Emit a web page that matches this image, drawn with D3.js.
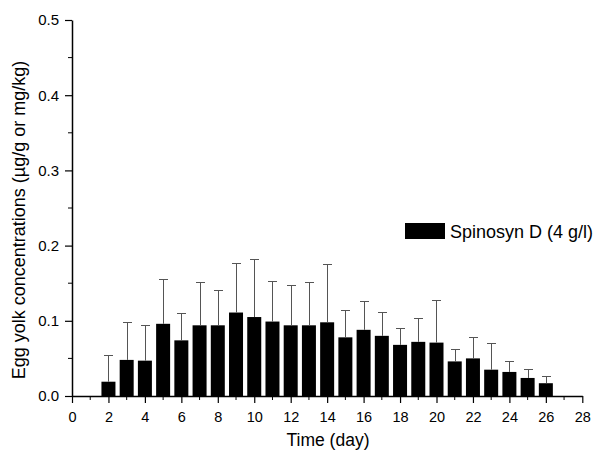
<!DOCTYPE html>
<html>
<head>
<meta charset="utf-8">
<script src="https://cdn.jsdelivr.net/npm/d3@7"></script>
<style>
  body { margin: 0; background: #fff; }
  text { font-family: "Liberation Sans", Arial, sans-serif; fill: #000; }
</style>
</head>
<body>
<div id="chart"></div>
<script>
// values
var days = [2, 3, 4, 5, 6, 7, 8, 9, 10, 11, 12, 13, 14, 15, 16, 17, 18, 19, 20, 21, 22, 23, 24, 25, 26]
var means = [0.019, 0.048, 0.047, 0.096, 0.074, 0.094, 0.094, 0.111, 0.105, 0.099, 0.094, 0.094, 0.098,
  0.078, 0.088, 0.080, 0.068, 0.072, 0.071, 0.046, 0.050, 0.035, 0.032, 0.024, 0.017]
var upper = [0.054, 0.098, 0.094, 0.156, 0.111, 0.152, 0.141, 0.177, 0.182, 0.153, 0.147, 0.152, 0.175,
  0.114, 0.126, 0.112, 0.090, 0.104, 0.128, 0.063, 0.079, 0.070, 0.047, 0.036, 0.026]
var xTicks = d3.range(0, 29, 2)
var yTicks = [0.0, 0.1, 0.2, 0.3, 0.4, 0.5]
var seriesName = 'Spinosyn D (4 g/l)'

var width = 600, height = 452

var svg = d3.select('#chart').append('svg')
  .attr('width', width)
  .attr('height', height)

var x = d3.scaleLinear().domain([0, 28]).range([72, 582.3])
var y = d3.scaleLinear().domain([0, 0.5]).range([396, 20])

var barW = 14

var data = days.map(function (d, i) { return { day: d, mean: means[i], up: upper[i] } })

// bars
svg.selectAll('rect.bar')
  .data(data)
  .enter()
  .append('rect')
  .attr('class', 'bar')
  .attr('x', function (d) { return x(d.day) - barW / 2 })
  .attr('y', function (d) { return y(d.mean) })
  .attr('width', barW)
  .attr('height', function (d) { return y(0) - y(d.mean) })
  .style('fill', '#000')

// error bars (upper only)
var err = svg.append('g')
  .attr('stroke', '#555')
  .attr('stroke-width', 1)
err.selectAll('line.stem')
  .data(data)
  .enter()
  .append('line')
  .attr('x1', function (d) { return Math.round(x(d.day)) + 0.5 })
  .attr('x2', function (d) { return Math.round(x(d.day)) + 0.5 })
  .attr('y1', function (d) { return y(d.mean) })
  .attr('y2', function (d) { return Math.round(y(d.up)) + 0.5 })
err.selectAll('line.cap')
  .data(data)
  .enter()
  .append('line')
  .attr('x1', function (d) { return Math.round(x(d.day)) - 4 })
  .attr('x2', function (d) { return Math.round(x(d.day)) + 5 })
  .attr('y1', function (d) { return Math.round(y(d.up)) + 0.5 })
  .attr('y2', function (d) { return Math.round(y(d.up)) + 0.5 })

// x axis, major ticks every 2 days, minor ticks in between
var xAxis = svg.append('g')
  .attr('transform', 'translate(0,' + y(0) + ')')
  .call(d3.axisBottom(x).tickValues(xTicks).tickFormat(d3.format('d')).tickSize(7).tickSizeOuter(0).tickPadding(9))
xAxis.selectAll('.tick text').style('font-size', '14.5px')
xAxis.append('g').selectAll('line')
  .data(d3.range(1, 28, 2))
  .enter()
  .append('line')
  .attr('x1', function (d) { return x(d) })
  .attr('x2', function (d) { return x(d) })
  .attr('y1', 0)
  .attr('y2', 4)
  .attr('stroke', '#000')

// y axis
var yAxis = svg.append('g')
  .attr('transform', 'translate(' + x(0) + ',0)')
  .call(d3.axisLeft(y).tickValues(yTicks).tickFormat(d3.format('.1f')).tickSize(7).tickSizeOuter(0).tickPadding(6))
yAxis.selectAll('.tick text').style('font-size', '15px')
yAxis.append('g').selectAll('line')
  .data([0.05, 0.15, 0.25, 0.35, 0.45])
  .enter()
  .append('line')
  .attr('x1', 0)
  .attr('x2', -4)
  .attr('y1', function (d) { return y(d) })
  .attr('y2', function (d) { return y(d) })
  .attr('stroke', '#000')

svg.selectAll('.domain').attr('stroke-width', 1.5)
svg.selectAll('.tick line').attr('stroke-width', 1.2)

// axis titles
svg.append('text')
  .attr('x', 328)
  .attr('y', 446)
  .attr('text-anchor', 'middle')
  .style('font-size', '17.5px')
  .text('Time (day)')

svg.append('text')
  .attr('transform', 'translate(25,220) rotate(-90)')
  .attr('text-anchor', 'middle')
  .style('font-size', '18px')
  .text('Egg yolk concentrations (µg/g or mg/kg)')

// legend
svg.append('rect')
  .attr('x', 405)
  .attr('y', 223)
  .attr('width', 40)
  .attr('height', 16)
  .style('fill', '#000')
svg.append('text')
  .attr('x', 450)
  .attr('y', 237.5)
  .style('font-size', '18px')
  .text(seriesName)
</script>
</body>
</html>
